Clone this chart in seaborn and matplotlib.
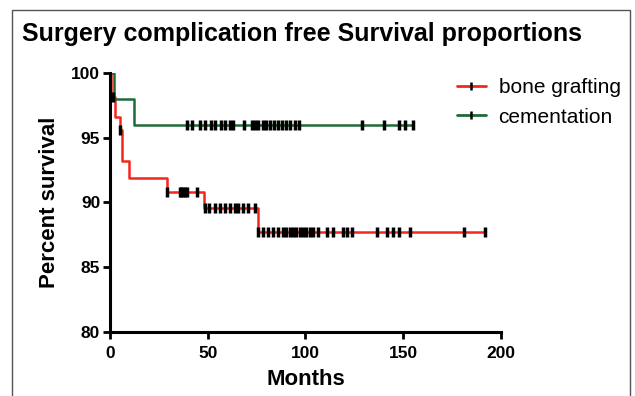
import numpy as np
import pandas as pd
import matplotlib
matplotlib.use("Agg")
import matplotlib.pyplot as plt
from matplotlib.lines import Line2D
from matplotlib.patches import Rectangle
import seaborn as sns

# step curves (event times and survival levels, %)
red_times = [0, 0.5, 2.5, 5, 6, 10, 29, 48, 76]
red_surv = [100, 98.1, 96.6, 95.6, 93.2, 91.9, 90.8, 89.6, 87.7]
red_end = 192
red_censor = [1.5, 5.4, 29.2, 35.8, 36.6, 37.3, 38.2, 39.4, 44.5,
              48.6, 50.6, 53.7, 56.3, 58.8, 61.4, 63.9, 65.5, 68, 70.6, 74.2,
              76, 78.4, 80.9, 83.5, 86, 88.6, 90.3, 92, 93.7, 95.4, 97.1,
              98.8, 100.5, 102.3, 104, 106.6, 111.2, 113.9, 119.3, 121, 123.6,
              136.4, 141.5, 145, 148, 153.5, 181, 192]

green_times = [0, 2, 12.3]
green_surv = [100, 98, 96]
green_end = 155
green_censor = [39.2, 41.8, 46, 48.6, 51.8, 53.7, 57, 58.8, 61.4, 62.9,
                68.4, 72.5, 74.2, 75.9, 78.4, 80, 82, 84, 86, 88, 90, 92,
                94.6, 96.5, 129, 140, 148, 151, 155]

groups = ["bone grafting", "cementation"]
colors = ["#f4261d", "#1f6b37"]


def step_frame(times, surv, end, name):
    t = list(times) + [end]
    s = list(surv) + [surv[-1]]
    return pd.DataFrame({"Months": t, "Percent survival": s, "group": name})


def censor_frame(times, surv, cens, name):
    idx = np.searchsorted(times, cens, side="right") - 1
    return pd.DataFrame({"Months": cens,
                         "Percent survival": np.array(surv)[idx],
                         "group": name})


sns.set_style("white")
plt.rcParams["font.family"] = ["Liberation Sans", "DejaVu Sans"]
plt.rcParams["text.color"] = "black"
plt.rcParams["axes.labelcolor"] = "black"

fig = plt.figure(figsize=(6.35, 3.96), dpi=100)
ax = fig.add_axes([0.173, 0.162, 0.616, 0.654])

curves = [step_frame(red_times, red_surv, red_end, groups[0]),
          step_frame(green_times, green_surv, green_end, groups[1])]
cens = [censor_frame(red_times, red_surv, red_censor, groups[0]),
        censor_frame(green_times, green_surv, green_censor, groups[1])]

for df, cdf, col in zip(curves, cens, colors):
    sns.lineplot(data=df, x="Months", y="Percent survival", ax=ax,
                 color=col, lw=1.8, drawstyle="steps-post",
                 estimator=None, legend=False, zorder=2)
    ax.plot(cdf["Months"], cdf["Percent survival"], ls="none",
            marker="|", ms=7, mew=2.5, color="black", zorder=3)

ax.set_xlim(0, 200)
ax.set_ylim(80, 100)
ax.set_xticks([0, 50, 100, 150, 200])
ax.set_yticks([80, 85, 90, 95, 100])
sns.despine(ax=ax)
for sp in ["left", "bottom"]:
    ax.spines[sp].set_linewidth(2.2)
    ax.spines[sp].set_color("black")
ax.tick_params(direction="out", length=5, width=2, colors="black",
               labelsize=12.5, pad=2, left=True, bottom=True)
ax.tick_params(axis="x", pad=5)
for lab in ax.get_xticklabels() + ax.get_yticklabels():
    lab.set_fontweight("bold")
ax.set_xlabel("Months", fontsize=16, fontweight="bold", labelpad=6)
ax.set_ylabel("Percent survival", fontsize=16, fontweight="bold", labelpad=8)

fig.text(0.035, 0.915, "Surgery complication free Survival proportions",
         fontsize=18, fontweight="bold", ha="left", va="center")

handles = [Line2D([0], [0], color=c, lw=2, marker="|", ms=6, mew=1.8,
                  markeredgecolor="black") for c in colors]
fig.legend(handles, groups, loc="upper left", bbox_to_anchor=(0.69, 0.85),
           frameon=False, fontsize=15, handlelength=1.4, handletextpad=0.6,
           labelspacing=0.5, numpoints=1)

fig.patches.append(Rectangle((12 / 635, -0.05), 618 / 635, 1.05 - 10 / 396,
                             transform=fig.transFigure, fill=False,
                             edgecolor="#555555", lw=1))

plt.savefig("out.png", dpi=100)
